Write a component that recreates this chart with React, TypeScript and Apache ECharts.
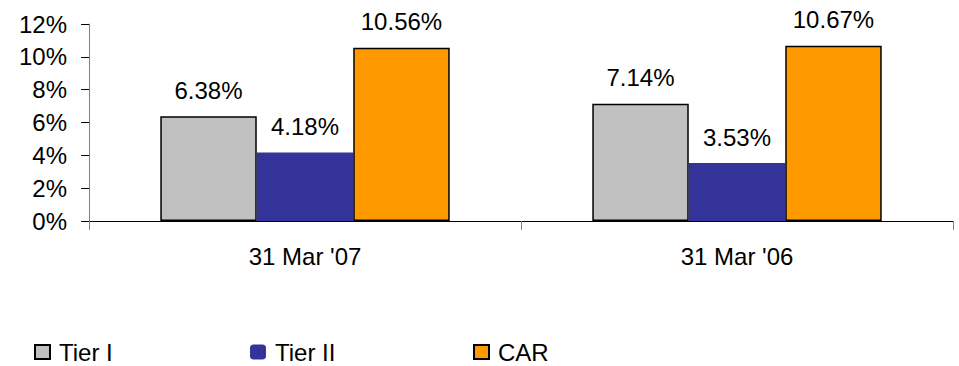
import React, { useEffect, useRef } from "react";
import * as echarts from "echarts";

// Capital adequacy ratios by reporting date
const categories = ["31 Mar '07", "31 Mar '06"];
const tier1 = [6.38, 7.14];
const tier2 = [4.18, 3.53];
const car = [10.56, 10.67];

const FONT = "'Liberation Sans', Arial, sans-serif";
const FS = 24;

export default function App() {
  const ref = useRef<HTMLDivElement>(null);

  useEffect(() => {
    if (!ref.current) return;
    const chart = echarts.init(ref.current, undefined, { renderer: "svg" });

    const label = {
      show: true,
      position: "top" as const,
      distance: 14,
      color: "#000",
      fontFamily: FONT,
      fontSize: FS,
      formatter: (p: any) => `${p.value.toFixed(2)}%`,
    };

    const legendText = { color: "#000", fontFamily: FONT, fontSize: FS, padding: [0, 0, 0, 4] };
    const legendBase = { top: 340, padding: 0, icon: "rect", textStyle: legendText };

    chart.setOption({
      animation: false,
      backgroundColor: "#fff",
      textStyle: { fontFamily: FONT },
      grid: { left: 89, right: 6, top: 24, bottom: 145, containLabel: false },
      legend: [
        { ...legendBase, data: ["Tier I"], left: 34, itemWidth: 15, itemHeight: 14 },
        { ...legendBase, data: ["Tier II"], left: 250, itemWidth: 16, itemHeight: 15, icon: "roundRect" },
        { ...legendBase, data: ["CAR"], left: 473, itemWidth: 15, itemHeight: 14 },
      ],
      xAxis: {
        type: "category",
        data: categories,
        axisLine: { lineStyle: { color: "#000", width: 1 } },
        axisTick: { show: true, length: 9, lineStyle: { color: "#808080" } },
        axisLabel: { color: "#000", fontFamily: FONT, fontSize: FS, margin: 23 },
        splitLine: { show: false },
      },
      yAxis: {
        type: "value",
        min: 0,
        max: 12,
        interval: 2,
        axisLine: { show: true, lineStyle: { color: "#808080", width: 1 } },
        axisTick: { show: true, length: 8, lineStyle: { color: "#000" } },
        axisLabel: {
          color: "#000",
          fontFamily: FONT,
          fontSize: FS,
          margin: 22,
          formatter: (v: number) => `${v}%`,
        },
        splitLine: { show: false },
      },
      series: [
        {
          name: "Tier I",
          type: "bar",
          data: tier1,
          barGap: "0%",
          barCategoryGap: "33%",
          itemStyle: { color: "#C0C0C0", borderColor: "#000", borderWidth: 1.5 },
          label,
        },
        {
          name: "Tier II",
          type: "bar",
          data: tier2,
          barGap: "0%",
          barCategoryGap: "33%",
          itemStyle: { color: "#333399" },
          label,
        },
        {
          name: "CAR",
          type: "bar",
          data: car,
          barGap: "0%",
          barCategoryGap: "33%",
          itemStyle: { color: "#FF9900", borderColor: "#000", borderWidth: 1.5 },
          label,
        },
      ],
    });

    return () => chart.dispose();
  }, []);

  return (
    <div
      ref={ref}
      style={{ position: "fixed", left: 0, top: 0, width: 959, height: 366 }}
    />
  );
}
